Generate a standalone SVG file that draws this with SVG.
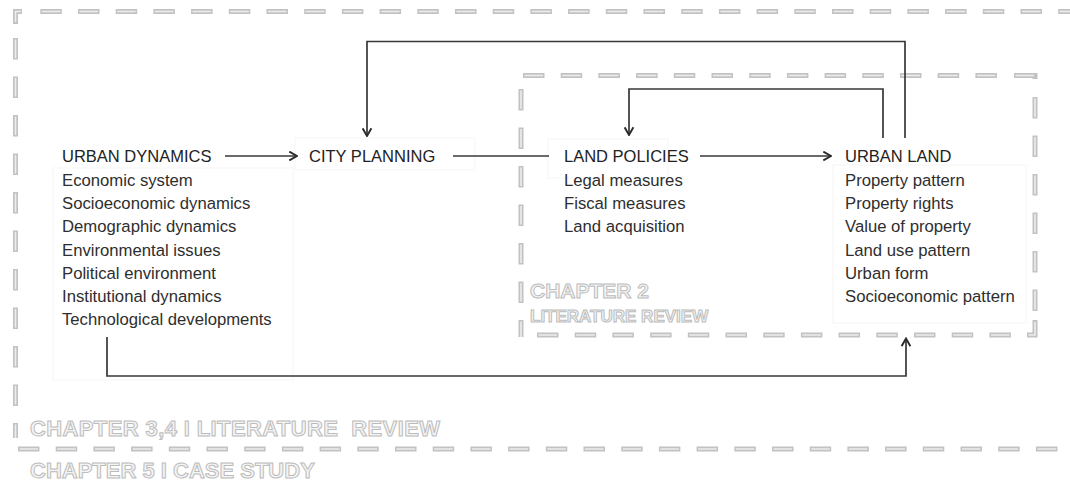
<svg xmlns="http://www.w3.org/2000/svg" width="1070" height="485" viewBox="0 0 1070 485">
  <defs>
    <style>
      .bg { fill: #ffffff; }
      .frame { fill: none; stroke: #c2c2c2; stroke-width: 5; stroke-dasharray: 21.5 16.2; }
      .frame-in { fill: none; stroke: #ededed; stroke-width: 1.6; stroke-dasharray: 18.5 19.2; stroke-dashoffset: -1.5; }
      .framev { fill: none; stroke: #c2c2c2; stroke-width: 5; stroke-dasharray: 21.5 17; }
      .framev-in { fill: none; stroke: #ededed; stroke-width: 1.6; stroke-dasharray: 18.5 20; stroke-dashoffset: -1.5; }
      .corner { fill: none; stroke: #c2c2c2; stroke-width: 5; }
      .corner-in { fill: none; stroke: #ededed; stroke-width: 1.6; }
      .panel { fill: none; stroke: #f5f5f5; stroke-width: 1; }
      .link { fill: none; stroke: #383838; stroke-width: 1.7; }
      .head { font-family: "Liberation Sans", Arial, sans-serif; font-size: 16.5px; fill: #222222; }
      .item { font-family: "Liberation Sans", Arial, sans-serif; font-size: 16.7px; fill: #2e2e2e; }
      .chap { font-family: "Liberation Sans", Arial, sans-serif; font-weight: bold; fill: #f4f4f4; stroke: #bcbcbc; stroke-width: 1; white-space: pre; }
    </style>
    <marker id="open-arrow" viewBox="0 0 10 10" refX="9" refY="5" markerWidth="11" markerHeight="11" markerUnits="userSpaceOnUse" orient="auto">
      <path d="M2,1 L9,5 L2,9" fill="none" stroke="#2a2a2a" stroke-width="1.7"/>
    </marker>
  </defs>

  <rect class="bg" x="0" y="0" width="1070" height="485"/>

  <!-- outer chapter frame (chapters 3,4) -->
  <g id="frame-outer">
    <path class="frame" d="M40.3,11.5 H1070"/>
    <path class="frame-in" d="M40.3,11.5 H1070"/>
    <path class="framev" d="M15.5,38 V438"/>
    <path class="framev-in" d="M15.5,38 V438"/>
    <path class="corner" d="M15.5,24 V11.5 H22"/>
    <path class="corner-in" d="M15.5,22 V11.5 H21"/>
    <path class="frame" d="M18,449 H1070"/>
    <path class="frame-in" d="M18,449 H1070"/>
  </g>

  <!-- inner chapter frame (chapter 2) -->
  <g id="frame-inner">
    <path class="frame" d="M523,75.5 H1013"/>
    <path class="frame-in" d="M523,75.5 H1013"/>
    <path class="corner" d="M1014,75.5 H1035 V79"/>
    <path class="corner-in" d="M1015.5,75.5 H1034"/>
    <path class="framev" d="M1035,97 V318"/>
    <path class="framev-in" d="M1035,97 V318"/>
    <path class="corner" d="M1027,335 H1035 V320"/>
    <path class="corner-in" d="M1028.5,335 H1035 V322"/>
    <path class="frame" d="M537,335 H1011"/>
    <path class="frame-in" d="M537,335 H1011"/>
    <path class="framev" d="M521,89 V337"/>
    <path class="framev-in" d="M521,89 V337"/>
  </g>

  <!-- faint panels behind the text blocks -->
  <g id="panels">
    <rect class="panel" x="53" y="168" width="240" height="212"/>
    <rect class="panel" x="295" y="138" width="180" height="32"/>
    <rect class="panel" x="548" y="139" width="120" height="39"/>
    <rect class="panel" x="833" y="165" width="193" height="158"/>
  </g>

  <!-- connectors -->
  <g id="connectors">
    <path class="link" d="M225,156 H297" marker-end="url(#open-arrow)"/>
    <path class="link" d="M453,156 H549"/>
    <path class="link" d="M700,156 H831" marker-end="url(#open-arrow)"/>
    <path class="link" d="M905,138 V41.5 H367 V136" marker-end="url(#open-arrow)"/>
    <path class="link" d="M883,138 V89 H629 V135" marker-end="url(#open-arrow)"/>
    <path class="link" d="M107,337 V376 H906 V338.5" marker-end="url(#open-arrow)"/>
  </g>

  <!-- nodes -->
  <g id="urban-dynamics">
    <text class="head" x="62" y="162">URBAN DYNAMICS</text>
    <text class="item" x="62" y="186">Economic system</text>
    <text class="item" x="62" y="209.2">Socioeconomic dynamics</text>
    <text class="item" x="62" y="232.4">Demographic dynamics</text>
    <text class="item" x="62" y="255.6">Environmental issues</text>
    <text class="item" x="62" y="278.8">Political environment</text>
    <text class="item" x="62" y="302">Institutional dynamics</text>
    <text class="item" x="62" y="325.2">Technological developments</text>
  </g>

  <g id="city-planning">
    <text class="head" x="309" y="162">CITY PLANNING</text>
  </g>

  <g id="land-policies">
    <text class="head" x="564" y="162">LAND POLICIES</text>
    <text class="item" x="564" y="186">Legal measures</text>
    <text class="item" x="564" y="209.2">Fiscal measures</text>
    <text class="item" x="564" y="232.4">Land acquisition</text>
  </g>

  <g id="urban-land">
    <text class="head" x="845" y="162">URBAN LAND</text>
    <text class="item" x="845" y="186">Property pattern</text>
    <text class="item" x="845" y="209.2">Property rights</text>
    <text class="item" x="845" y="232.4">Value of property</text>
    <text class="item" x="845" y="255.6">Land use pattern</text>
    <text class="item" x="845" y="278.8">Urban form</text>
    <text class="item" x="845" y="302">Socioeconomic pattern</text>
  </g>

  <!-- chapter captions -->
  <g id="chapter-labels">
    <text class="chap" x="530" y="298" font-size="21">CHAPTER 2</text>
    <text class="chap" x="530" y="322" font-size="17">LITERATURE REVIEW</text>
    <text class="chap" x="30" y="436" font-size="22" textLength="410" lengthAdjust="spacing">CHAPTER 3,4 I LITERATURE  REVIEW</text>
    <text class="chap" x="30" y="478" font-size="22">CHAPTER 5 I CASE STUDY</text>
  </g>
</svg>
